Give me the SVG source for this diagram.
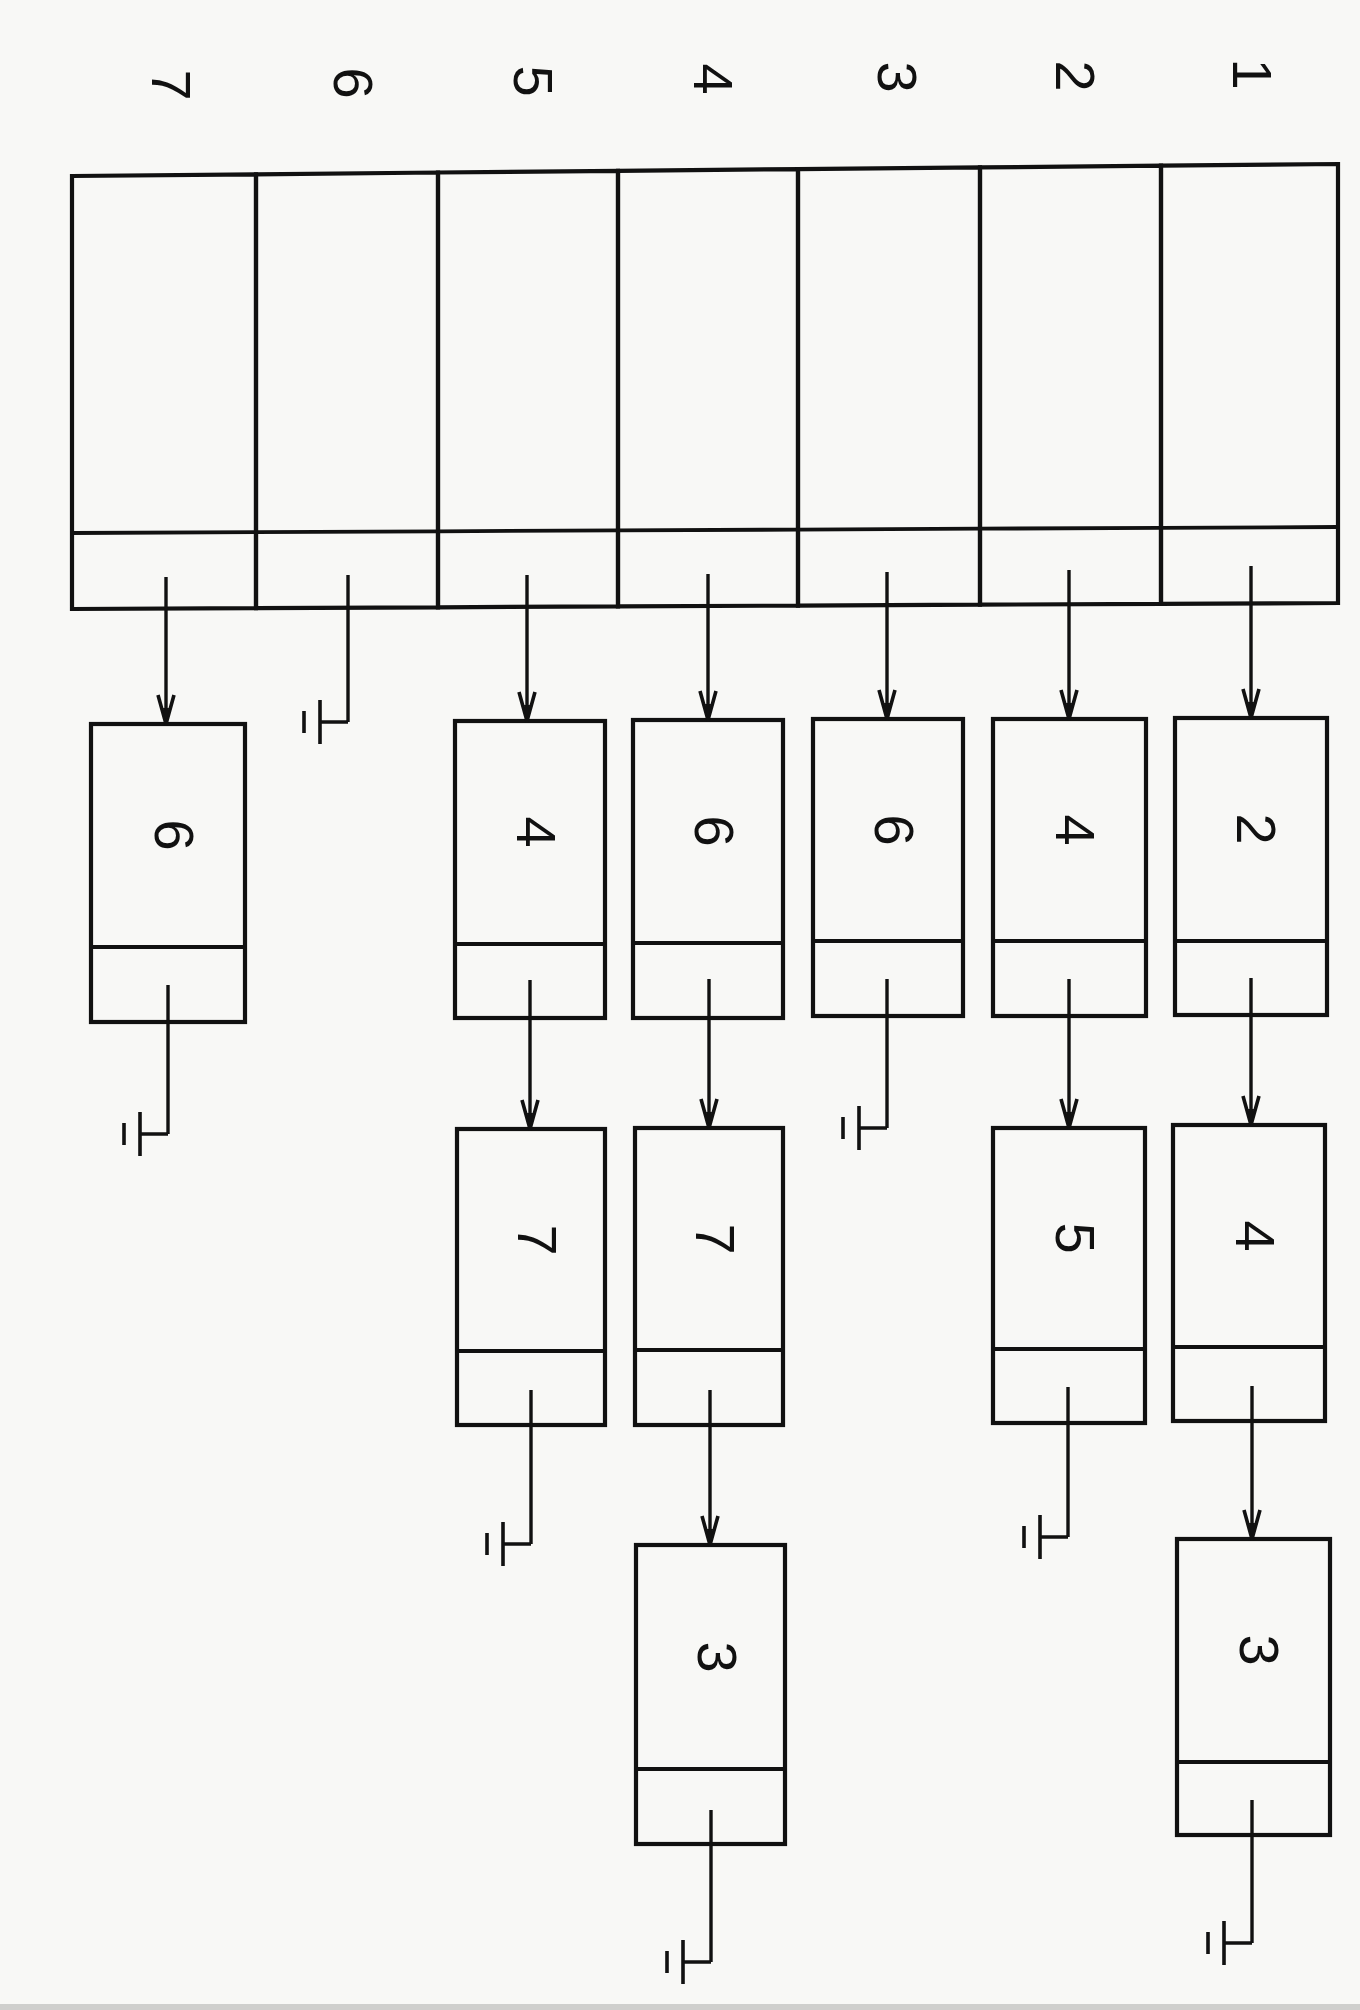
<svg xmlns="http://www.w3.org/2000/svg" xmlns:xlink="http://www.w3.org/1999/xlink" width="1360" height="2010" viewBox="0 0 1360 2010">
<style>
.box{fill:none;stroke:#111;stroke-width:4.2;stroke-linejoin:miter}
.ln{fill:none;stroke:#111;stroke-width:3.8}
.con{fill:none;stroke:#111;stroke-width:3.4}
.lbl{font-family:"Liberation Sans",Arial,sans-serif;font-size:56px;fill:#111;text-anchor:middle;dominant-baseline:central}
</style>
<defs>
<marker id="ah" markerUnits="userSpaceOnUse" viewBox="0 0 32 20" refX="30" refY="10" markerWidth="32" markerHeight="20" orient="auto">
<path d="M1,2 L30,10 L1,18" fill="none" stroke="#111" stroke-width="3.6" stroke-linejoin="miter"/>
<path d="M14,7 L30,10 L14,13 Z" fill="#111"/>
</marker>
<g id="gnd">
<path d="M0,0 H-28 M-28,-22 V22 M-44,-11 V11" fill="none" stroke="#111" stroke-width="3.6"/>
</g>
</defs>
<rect x="0" y="0" width="1360" height="2010" fill="#f8f8f6"/>
<rect x="0" y="2004" width="1360" height="6" fill="#cfcfcd"/>

<!-- header labels -->
<g id="labels">
<text class="lbl" transform="translate(1252,74) rotate(90)">1</text>
<text class="lbl" transform="translate(1075,76) rotate(90)">2</text>
<text class="lbl" transform="translate(897,77) rotate(90)">3</text>
<text class="lbl" transform="translate(713,79) rotate(90)">4</text>
<text class="lbl" transform="translate(533,81) rotate(90)">5</text>
<text class="lbl" transform="translate(353,83) rotate(90)">6</text>
<text class="lbl" transform="translate(171,85) rotate(90)">7</text>
</g>

<!-- head array cells -->
<g id="head7"><path class="box" d="M72,176 L256,174.3 L256,608.1 L72,609 Z"/><path class="ln" d="M72,533 L256,532.1"/></g>
<g id="head6"><path class="box" d="M256,174.3 L438,172.5 L438,607.3 L256,608.1 Z"/><path class="ln" d="M256,532.1 L438,531.3"/></g>
<g id="head5"><path class="box" d="M438,172.5 L618,170.8 L618,606.4 L438,607.3 Z"/><path class="ln" d="M438,531.3 L618,530.4"/></g>
<g id="head4"><path class="box" d="M618,170.8 L798,169.1 L798,605.6 L618,606.4 Z"/><path class="ln" d="M618,530.4 L798,529.6"/></g>
<g id="head3"><path class="box" d="M798,169.1 L980,167.4 L980,604.7 L798,605.6 Z"/><path class="ln" d="M798,529.6 L980,528.7"/></g>
<g id="head2"><path class="box" d="M980,167.4 L1161,165.7 L1161,603.8 L980,604.7 Z"/><path class="ln" d="M980,528.7 L1161,527.8"/></g>
<g id="head1"><path class="box" d="M1161,165.7 L1338,164 L1338,603 L1161,603.8 Z"/><path class="ln" d="M1161,527.8 L1338,527"/></g>

<!-- row 1 nodes -->
<g id="n1a"><rect class="box" x="1175" y="718" width="152" height="297"/><line class="ln" x1="1175" y1="941" x2="1327" y2="941"/><text class="lbl" transform="translate(1256,829) rotate(90)">2</text></g>
<g id="n2a"><rect class="box" x="993" y="719" width="153" height="297"/><line class="ln" x1="993" y1="941" x2="1146" y2="941"/><text class="lbl" transform="translate(1075,830) rotate(90)">4</text></g>
<g id="n3a"><rect class="box" x="813" y="719" width="150" height="297"/><line class="ln" x1="813" y1="941" x2="963" y2="941"/><text class="lbl" transform="translate(894,830) rotate(90)">6</text></g>
<g id="n4a"><rect class="box" x="633" y="720" width="150" height="298"/><line class="ln" x1="633" y1="943" x2="783" y2="943"/><text class="lbl" transform="translate(714,831) rotate(90)">6</text></g>
<g id="n5a"><rect class="box" x="455" y="721" width="150" height="297"/><line class="ln" x1="455" y1="944" x2="605" y2="944"/><text class="lbl" transform="translate(536,832) rotate(90)">4</text></g>
<g id="n7a"><rect class="box" x="91" y="724" width="154" height="298"/><line class="ln" x1="91" y1="947" x2="245" y2="947"/><text class="lbl" transform="translate(174,835) rotate(90)">6</text></g>

<!-- row 2 nodes -->
<g id="n1b"><rect class="box" x="1173" y="1125" width="152" height="296"/><line class="ln" x1="1173" y1="1347" x2="1325" y2="1347"/><text class="lbl" transform="translate(1255,1236) rotate(90)">4</text></g>
<g id="n2b"><rect class="box" x="993" y="1128" width="152" height="295"/><line class="ln" x1="993" y1="1349" x2="1145" y2="1349"/><text class="lbl" transform="translate(1075,1238) rotate(90)">5</text></g>
<g id="n4b"><rect class="box" x="635" y="1128" width="148" height="297"/><line class="ln" x1="635" y1="1350" x2="783" y2="1350"/><text class="lbl" transform="translate(715,1239) rotate(90)">7</text></g>
<g id="n5b"><rect class="box" x="457" y="1129" width="148" height="296"/><line class="ln" x1="457" y1="1351" x2="605" y2="1351"/><text class="lbl" transform="translate(537,1240) rotate(90)">7</text></g>

<!-- row 3 nodes -->
<g id="n1c"><rect class="box" x="1177" y="1539" width="153" height="296"/><line class="ln" x1="1177" y1="1762" x2="1330" y2="1762"/><text class="lbl" transform="translate(1259,1650) rotate(90)">3</text></g>
<g id="n4c"><rect class="box" x="636" y="1545" width="149" height="299"/><line class="ln" x1="636" y1="1769" x2="785" y2="1769"/><text class="lbl" transform="translate(717,1657) rotate(90)">3</text></g>

<!-- connectors -->
<g id="connectors">
<line class="con" x1="1251" y1="566" x2="1251" y2="718" marker-end="url(#ah)"/>
<line class="con" x1="1069" y1="570" x2="1069" y2="719" marker-end="url(#ah)"/>
<line class="con" x1="887" y1="572" x2="887" y2="719" marker-end="url(#ah)"/>
<line class="con" x1="708" y1="574" x2="708" y2="720" marker-end="url(#ah)"/>
<line class="con" x1="527" y1="575" x2="527" y2="721" marker-end="url(#ah)"/>
<line class="con" x1="166" y1="577" x2="166" y2="724" marker-end="url(#ah)"/>
<line class="con" x1="348" y1="575" x2="348" y2="722"/>
<use xlink:href="#gnd" x="348" y="722"/>

<line class="con" x1="1251" y1="978" x2="1251" y2="1125" marker-end="url(#ah)"/>
<line class="con" x1="1069" y1="979" x2="1069" y2="1128" marker-end="url(#ah)"/>
<line class="con" x1="709" y1="979" x2="709" y2="1128" marker-end="url(#ah)"/>
<line class="con" x1="530" y1="980" x2="530" y2="1129" marker-end="url(#ah)"/>
<line class="con" x1="887" y1="979" x2="887" y2="1128"/>
<use xlink:href="#gnd" x="887" y="1128"/>
<line class="con" x1="168" y1="985" x2="168" y2="1134"/>
<use xlink:href="#gnd" x="168" y="1134"/>

<line class="con" x1="1252" y1="1386" x2="1252" y2="1539" marker-end="url(#ah)"/>
<line class="con" x1="710" y1="1390" x2="710" y2="1545" marker-end="url(#ah)"/>
<line class="con" x1="531" y1="1390" x2="531" y2="1544"/>
<use xlink:href="#gnd" x="531" y="1544"/>
<line class="con" x1="1068" y1="1387" x2="1068" y2="1537"/>
<use xlink:href="#gnd" x="1068" y="1537"/>

<line class="con" x1="1252" y1="1800" x2="1252" y2="1943"/>
<use xlink:href="#gnd" x="1252" y="1943"/>
<line class="con" x1="711" y1="1810" x2="711" y2="1962"/>
<use xlink:href="#gnd" x="711" y="1962"/>
</g>
</svg>
